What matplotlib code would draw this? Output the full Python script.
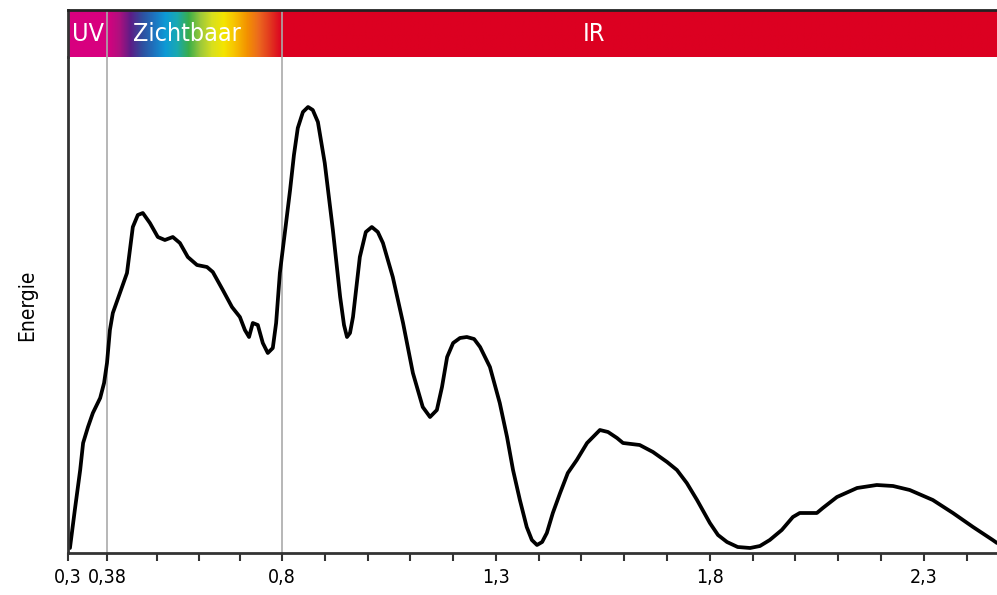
import matplotlib
matplotlib.use('Agg')
import matplotlib.pyplot as plt
import numpy as np
from matplotlib.colors import LinearSegmentedColormap, to_rgb

wavelength = [0.304, 0.314, 0.325, 0.331, 0.341, 0.351, 0.366, 0.374, 0.380, 0.387,
              0.394, 0.411, 0.428, 0.435, 0.442, 0.454, 0.466, 0.483, 0.502, 0.519,
              0.538, 0.555, 0.574, 0.596, 0.620, 0.634, 0.658, 0.680, 0.699, 0.711,
              0.721, 0.730, 0.742, 0.754, 0.766, 0.778, 0.786, 0.795, 0.800, 0.809,
              0.819, 0.828, 0.837, 0.849, 0.861, 0.872, 0.884, 0.900, 0.919, 0.936,
              0.945, 0.952, 0.959, 0.966, 0.982, 0.996, 1.010, 1.024, 1.036, 1.059,
              1.083, 1.106, 1.129, 1.146, 1.162, 1.174, 1.186, 1.200, 1.216, 1.232,
              1.249, 1.263, 1.286, 1.309, 1.326, 1.340, 1.356, 1.372, 1.384, 1.396,
              1.408, 1.419, 1.433, 1.450, 1.468, 1.489, 1.513, 1.543, 1.562, 1.583,
              1.597, 1.636, 1.667, 1.700, 1.723, 1.746, 1.770, 1.800, 1.819, 1.840,
              1.865, 1.894, 1.917, 1.940, 1.968, 1.994, 2.010, 2.050, 2.064, 2.097,
              2.144, 2.190, 2.228, 2.267, 2.321, 2.368, 2.415, 2.461, 2.471]
energy = [5, 43, 83, 110, 126, 140, 155, 170, 190, 223,
          240, 260, 280, 303, 326, 338, 340, 330, 316, 313,
          316, 310, 296, 288, 286, 281, 263, 246, 236, 223,
          216, 230, 228, 210, 200, 205, 230, 280, 297, 328,
          363, 398, 425, 441, 446, 443, 431, 390, 323, 256,
          228, 216, 220, 236, 296, 321, 326, 321, 310, 276,
          230, 180, 146, 136, 143, 166, 196, 210, 215, 216,
          214, 206, 186, 150, 116, 83, 53, 26, 13, 8,
          11, 20, 40, 60, 80, 93, 110, 123, 121, 115,
          110, 108, 101, 91, 83, 70, 53, 30, 18, 11,
          6, 5, 7, 13, 23, 36, 40, 40, 45, 56,
          65, 68, 67, 63, 53, 40, 26, 13, 10]

major_ticks = [0.3, 0.38, 0.8, 1.3, 1.8, 2.3]
major_labels = ['0,3', '0,38', '0,8', '1,3', '1,8', '2,3']
minor_ticks = [0.5, 0.6, 0.7, 0.9, 1.0, 1.1, 1.2, 1.4, 1.5, 1.6, 1.7,
               1.9, 2.0, 2.1, 2.2, 2.4]

uv_end = 0.38
vis_end = 0.8
x_min, x_max = 0.3, 2.471

uv_color = '#d8007f'
ir_color = '#dc0021'
spectrum = ['#d8007f', '#b0107e', '#5c1d87', '#2f4f9f', '#1e73be', '#0d9ad6',
            '#19a9b0', '#3aae4a', '#9cc83a', '#d7df1f', '#f4e500', '#f7c000',
            '#f39200', '#ec6a1e', '#e2371f', '#dc0021']


# de originele as is niet lineair: UV en zichtbaar zijn uitgerekt
def fwd(x):
    x = np.asarray(x, dtype=float)
    return np.where(x < uv_end, (x - 0.3) * (39 / 0.08),
                    np.where(x < vis_end, 39 + (x - uv_end) * (175 / 0.42),
                             214 + (x - vis_end) * 428))


def inv(u):
    u = np.asarray(u, dtype=float)
    return np.where(u < 39, 0.3 + u * (0.08 / 39),
                    np.where(u < 214, uv_end + (u - 39) * (0.42 / 175),
                             vis_end + (u - 214) / 428))


fonts = ['DejaVu Sans']

fig = plt.figure(figsize=(9.97, 5.95), dpi=100)
W, H = 997, 595
left, right = 68, 997
ax = fig.add_axes([left / W, (H - 553) / H, (right - left) / W, (553 - 57) / H])
bar = fig.add_axes([left / W, (H - 57) / H, (right - left) / W, (57 - 10) / H])

# spectrumbalk (in pixel-eenheden van de as)
us = np.linspace(0, right - left, 2000)
xs = inv(us)
cmap = LinearSegmentedColormap.from_list('vis', spectrum)
img = np.zeros((1, len(xs), 3))
for i, x in enumerate(xs):
    if x < uv_end:
        img[0, i] = to_rgb(uv_color)
    elif x < vis_end:
        img[0, i] = cmap((x - uv_end) / (vis_end - uv_end))[:3]
    else:
        img[0, i] = to_rgb(ir_color)
bar.imshow(img, aspect='auto', extent=[0, right - left, 0, 1], interpolation='bilinear')
bar.set_ylim(0, 1)
bar.set_xlim(0, right - left)
bar.axvline(fwd(uv_end), color='#aaaaaa', lw=1.2)
bar.axvline(fwd(vis_end), color='#aaaaaa', lw=1.2)
for s in ['right', 'bottom']:
    bar.spines[s].set_visible(False)
bar.spines['top'].set_color('#222222')
bar.spines['top'].set_linewidth(2)
bar.spines['left'].set_color('#333333')
bar.spines['left'].set_linewidth(2)
bar.tick_params(left=False, bottom=False, labelleft=False, labelbottom=False)
txt = dict(color='white', fontsize=18, family=fonts, fontstretch='condensed',
           va='center')
bar.text(fwd(0.341), 0.48, 'UV', ha='center', **txt)
bar.text(fwd(0.442), 0.48, 'Zichtbaar', ha='left', **txt)
bar.text(fwd(1.53), 0.48, 'IR', ha='center', **txt)

# energiekromme
ax.set_xscale('function', functions=(fwd, inv))
ax.plot(wavelength, energy, color='black', lw=2.7, solid_capstyle='round',
        solid_joinstyle='round')
ax.axvline(uv_end, color='#aaaaaa', lw=1.2, zorder=0)
ax.axvline(vis_end, color='#aaaaaa', lw=1.2, zorder=0)
ax.set_xlim(x_min, x_max)
ax.set_ylim(0, 496)

ax.set_xticks(major_ticks)
ax.set_xticklabels(major_labels, family=fonts, fontsize=14, fontstretch='condensed')
ax.set_xticks(minor_ticks, minor=True)
ax.xaxis.set_minor_formatter(plt.NullFormatter())
ax.tick_params(axis='x', which='both', direction='out', length=6, width=1.5,
               color='#333333', pad=5)
ax.set_yticks([])
ax.set_ylabel('Energie', family=fonts, fontsize=15, fontstretch='condensed', labelpad=22)

for s in ['right', 'top']:
    ax.spines[s].set_visible(False)
for s in ['left', 'bottom']:
    ax.spines[s].set_color('#333333')
    ax.spines[s].set_linewidth(2)

fig.savefig('out.png', dpi=100, facecolor='white')
